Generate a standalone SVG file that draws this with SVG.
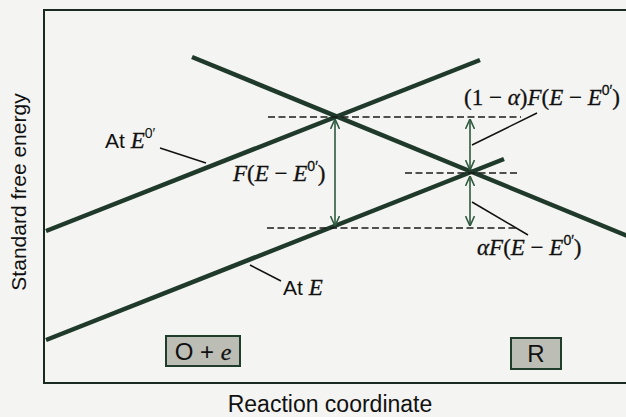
<svg xmlns="http://www.w3.org/2000/svg" width="626" height="417" viewBox="0 0 626 417">
<defs>
<style>
.thick{stroke:#1f3a2b;stroke-width:4.5;fill:none;stroke-linecap:butt}
.dash{stroke:#1a1a1a;stroke-width:1.6;stroke-dasharray:7 3.5;fill:none}
.arr{stroke:#2f5a3e;stroke-width:1.6;fill:none}
.lead{stroke:#111;stroke-width:1.5;fill:none}
.sans{font-family:"Liberation Sans",Arial,sans-serif;fill:#111}
.ser{font-family:"Liberation Serif","Times New Roman",serif;fill:#111;stroke:#111;stroke-width:0.3}
.it{font-style:italic}
.box{fill:#bcbdb5;stroke:#1f3d2a;stroke-width:2}
</style>
<marker id="ah" viewBox="0 0 10 10" refX="10" refY="5" markerWidth="10" markerHeight="10" markerUnits="userSpaceOnUse" orient="auto-start-reverse">
<path d="M0,0.5 L10,5 L0,9.5" fill="none" stroke="#2f5a3e" stroke-width="1.6"/>
</marker>
</defs>
<rect width="626" height="417" fill="#f4f4f2"/>
<rect x="44" y="10" width="600" height="373" fill="none" stroke="#1a2a20" stroke-width="2"/>

<g id="curves">
<line class="thick" x1="46" y1="231" x2="480" y2="60"/>
<line class="thick" x1="192" y1="57" x2="630" y2="237"/>
<line class="thick" x1="46" y1="340" x2="504" y2="159"/>
</g>

<g id="connectors">
<line class="dash" x1="268" y1="117" x2="521" y2="117"/>
<line class="dash" x1="405" y1="173" x2="519" y2="173"/>
<line class="dash" x1="267" y1="228" x2="519" y2="228"/>
<line class="arr" x1="335" y1="119" x2="335" y2="226" marker-start="url(#ah)" marker-end="url(#ah)"/>
<line class="arr" x1="470" y1="119" x2="470" y2="170" marker-start="url(#ah)" marker-end="url(#ah)"/>
<line class="arr" x1="470" y1="176" x2="470" y2="226" marker-start="url(#ah)" marker-end="url(#ah)"/>
<line class="lead" x1="160" y1="148" x2="206" y2="163"/>
<line class="lead" x1="250" y1="265" x2="281" y2="281"/>
<line class="lead" x1="537" y1="113" x2="472" y2="145"/>
<line class="lead" x1="472" y1="202" x2="528" y2="235"/>
</g>

<g id="label-atE0">
<text x="105" y="148" class="sans" font-size="21">At <tspan class="ser it" font-size="23">E</tspan><tspan class="sans" font-size="14" dy="-10">0′</tspan></text>
</g>
<g id="label-atE">
<text x="283" y="295" class="sans" font-size="21">At <tspan class="ser it" font-size="23">E</tspan></text>
</g>
<g id="label-F">
<text x="233" y="181" class="ser" font-size="23"><tspan class="it">F</tspan>(<tspan class="it">E</tspan> − <tspan class="it">E</tspan><tspan class="sans" font-size="14" dy="-10">0′</tspan><tspan dy="10">)</tspan></text>
</g>
<g id="label-1malpha">
<text x="464" y="105" class="ser" font-size="23">(1 − <tspan class="it">α</tspan>)<tspan class="it">F</tspan>(<tspan class="it">E</tspan> − <tspan class="it">E</tspan><tspan class="sans" font-size="14" dy="-10">0′</tspan><tspan dy="10">)</tspan></text>
</g>
<g id="label-alpha">
<text x="477" y="255" class="ser" font-size="23"><tspan class="it">αF</tspan>(<tspan class="it">E</tspan> − <tspan class="it">E</tspan><tspan class="sans" font-size="14" dy="-10">0′</tspan><tspan dy="10">)</tspan></text>
</g>

<g id="box-O">
<rect class="box" x="166" y="336" width="74" height="30"/>
<text x="203" y="360" class="sans" font-size="24" text-anchor="middle">O + <tspan class="ser it">e</tspan></text>
</g>
<g id="box-R">
<rect class="box" x="511" y="338" width="50" height="31"/>
<text x="536" y="362" class="sans" font-size="24" text-anchor="middle">R</text>
</g>

<g id="axis-labels">
<text x="330" y="412" class="sans" font-size="23" text-anchor="middle">Reaction coordinate</text>
<text transform="translate(26,192) rotate(-90)" class="sans" font-size="21" text-anchor="middle">Standard free energy</text>
</g>
</svg>
